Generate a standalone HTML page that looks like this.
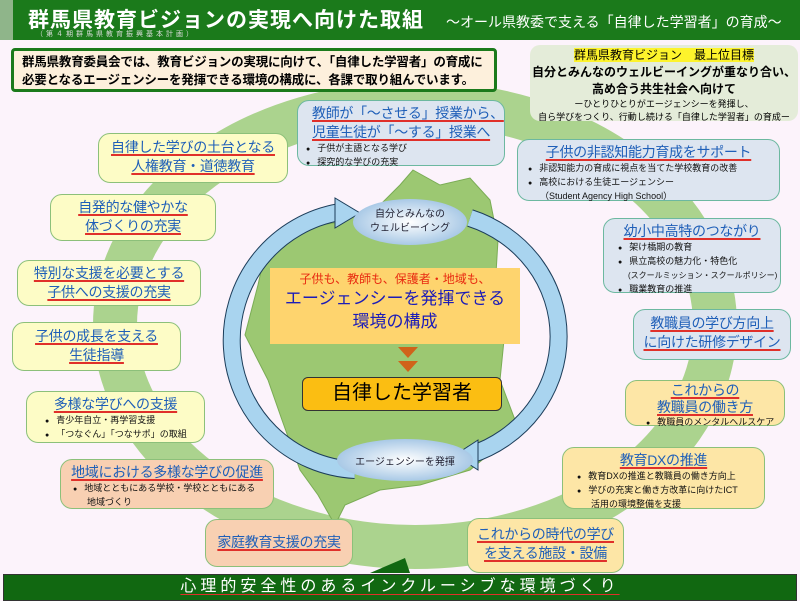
<!DOCTYPE html>
<html><head><meta charset="utf-8"><style>
*{margin:0;padding:0;box-sizing:border-box}
body{width:800px;height:601px;overflow:hidden;background:#fcf3fb;font-family:"Liberation Sans","Noto Sans CJK JP",sans-serif;position:relative;white-space:nowrap}
.a{position:absolute}
.bx{position:absolute;border:1.5px solid #8cc07a;border-radius:12px;text-align:center;color:#1f5fb8}
.t{text-decoration:underline;text-decoration-color:#e0302a;text-underline-offset:2px;text-decoration-thickness:1.5px;font-size:14px;line-height:19px;letter-spacing:-0.3px}
ul{list-style:none;text-align:left;color:#111;font-size:9px;line-height:13px}
ul li:before{content:"●";margin-right:7px;font-size:7px}
ul li.n:before{content:"";margin:0}
.y{background:#fdfcc6}.b{background:#dde5f0;border-color:#6cb8a0}.o{background:#fde6a6}.s{background:#f8d0b2}
</style></head><body>
<svg class="a" style="left:0;top:0" width="800" height="601">
<ellipse cx="415" cy="325" rx="300" ry="222" fill="none" stroke="#abd38e" stroke-width="44"/>
<polygon points="370,573 405,558 410,573" fill="#116811"/>
<polygon points="413,170 440,185 470,178 490,200 498,240 495,290 505,330 500,380 515,420 500,445 470,470 420,485 380,490 345,505 335,525 318,495 300,470 282,420 268,380 245,335 258,285 268,240 300,228 340,222 380,205 400,185" fill="#9cc872" stroke="#7aac55"/>
<path d="M355,470 A130,130 0 0 1 340,212" fill="none" stroke="#1c3d5a" stroke-width="18"/>
<path d="M355,470 A130,130 0 0 1 340,212" fill="none" stroke="#a9d4ef" stroke-width="16"/>
<polygon points="335,198 335,228 360,213" fill="#a9d4ef" stroke="#1c3d5a"/>
<path d="M470,218 A130,125 0 0 1 470,455" fill="none" stroke="#1c3d5a" stroke-width="18"/>
<path d="M470,218 A130,125 0 0 1 470,455" fill="none" stroke="#a9d4ef" stroke-width="16"/>
<polygon points="478,440 478,470 455,455" fill="#a9d4ef" stroke="#1c3d5a"/>
<defs><radialGradient id="g"><stop offset="0" stop-color="#fff"/><stop offset="1" stop-color="#a9c9e6"/></radialGradient></defs>
<ellipse cx="410" cy="222" rx="57" ry="23" fill="url(#g)"/>
<ellipse cx="405" cy="460" rx="68" ry="21" fill="url(#g)"/>
<polygon points="398,347 418,347 408,358" fill="#d0631a"/>
<polygon points="398,361 418,361 408,372" fill="#d0631a"/>
</svg>
<div class="a" style="left:0;top:0;width:13px;height:40px;background:#8fb58a"></div>
<div class="a" style="left:13px;top:0;width:787px;height:40px;background:#1b7a1b"></div>
<div class="a" style="left:28px;top:4px;color:#fff;font-size:21px;font-weight:bold;letter-spacing:1px">群馬県教育ビジョンの実現へ向けた取組</div>
<div class="a" style="left:36px;top:29px;color:#ddd;font-size:7px;letter-spacing:3px">（第４期群馬県教育振興基本計画）</div>
<div class="a" style="left:446px;top:12px;color:#fff;font-size:14px">～オール県教委で支える「自律した学習者」の育成～</div>
<div class="a" style="left:11px;top:48px;width:486px;height:44px;border:3px solid #1b7a1b;border-radius:4px;background:#fdf0dc;font-size:12.5px;font-weight:bold;line-height:18px;padding:2px 0 0 8px;letter-spacing:-0.2px">群馬県教育委員会では、教育ビジョンの実現に向けて、「自律した学習者」の育成に<br>必要となるエージェンシーを発揮できる環境の構成に、各課で取り組んでいます。</div>
<div class="a" style="left:530px;top:45px;width:268px;height:76px;background:#e4ecd9;border-radius:10px;text-align:center;font-size:12px;font-weight:bold;line-height:17px;padding-top:2px"><span style="background:#fdf32c;font-weight:normal">群馬県教育ビジョン　最上位目標</span><br>自分とみんなのウェルビーイングが重なり合い、<br>高め合う共生社会へ向けて<div style="font-size:9px;font-weight:normal;line-height:13px">ーひとりひとりがエージェンシーを発揮し、<br>自ら学びをつくり、行動し続ける「自律した学習者」の育成ー</div></div>

<div class="bx b" style="left:297px;top:100px;width:208px;height:66px;padding:3px 0 0 8px;text-align:left"><div class="t" style="padding-left:6px">教師が「～させる」授業から、<br>児童生徒が「～する」授業へ</div><ul><li>子供が主語となる学び</li><li>探究的な学びの充実</li></ul></div>
<div class="bx y" style="left:98px;top:133px;width:190px;height:50px;padding-top:4px"><div class="t">自律した学びの土台となる<br>人権教育・道徳教育</div></div>
<div class="bx b" style="left:517px;top:139px;width:263px;height:62px;padding-top:3px"><div class="t">子供の非認知能力育成をサポート</div><ul style="padding-left:10px"><li>非認知能力の育成に視点を当てた学校教育の改善</li><li>高校における生徒エージェンシー</li><li class="n" style="padding-left:12px">（Student Agency High School）</li></ul></div>
<div class="bx y" style="left:50px;top:194px;width:166px;height:47px;padding-top:3px"><div class="t">自発的な健やかな<br>体づくりの充実</div></div>
<div class="bx b" style="left:603px;top:218px;width:178px;height:75px;padding-top:3px"><div class="t">幼小中高特のつながり</div><ul style="padding-left:14px"><li>架け橋期の教育</li><li>県立高校の魅力化・特色化</li><li class="n" style="padding-left:10px;font-size:8px">(スクールミッション・スクールポリシー)</li><li>職業教育の推進</li></ul></div>
<div class="bx y" style="left:17px;top:260px;width:184px;height:46px;padding-top:3px"><div class="t">特別な支援を必要とする<br>子供への支援の充実</div></div>
<div class="bx b" style="left:633px;top:309px;width:158px;height:51px;padding-top:4px"><div class="t">教職員の学び方向上<br>に向けた研修デザイン</div></div>
<div class="bx y" style="left:12px;top:322px;width:169px;height:49px;padding-top:4px"><div class="t">子供の成長を支える<br>生徒指導</div></div>
<div class="bx o" style="left:625px;top:380px;width:160px;height:46px;padding-top:1px"><div class="t" style="line-height:17px">これからの<br>教職員の働き方</div><ul style="padding-left:20px"><li>教職員のメンタルヘルスケア</li></ul></div>
<div class="bx y" style="left:26px;top:391px;width:179px;height:52px;padding-top:3px"><div class="t">多様な学びへの支援</div><ul style="padding-left:18px"><li>青少年自立・再学習支援</li><li>「つなぐん」「つなサポ」の取組</li></ul></div>
<div class="bx o" style="left:562px;top:447px;width:203px;height:62px;padding-top:3px"><div class="t">教育DXの推進</div><ul style="padding-left:14px"><li>教育DXの推進と教職員の働き方向上</li><li>学びの充実と働き方改革に向けたICT</li><li class="n" style="padding-left:14px">活用の環境整備を支援</li></ul></div>
<div class="bx s" style="left:60px;top:459px;width:214px;height:50px;padding-top:3px"><div class="t">地域における多様な学びの促進</div><ul style="padding-left:12px"><li>地域とともにある学校・学校とともにある</li><li class="n" style="padding-left:14px">地域づくり</li></ul></div>
<div class="bx o" style="left:467px;top:518px;width:157px;height:55px;padding-top:6px"><div class="t">これからの時代の学び<br>を支える施設・設備</div></div>
<div class="bx s" style="left:205px;top:519px;width:148px;height:48px;padding-top:13px"><div class="t">家庭教育支援の充実</div></div>

<div class="a" style="left:270px;top:268px;width:250px;height:76px;background:#fed46e;text-align:center;color:#1c1cb8;font-size:17px;line-height:23px;padding-top:3px"><div style="color:#e82a10;font-size:12px;line-height:16px">子供も、教師も、保護者・地域も、</div>エージェンシーを発揮できる<br>環境の構成</div>
<div class="a" style="left:302px;top:377px;width:200px;height:34px;background:#fbbe12;border:1.5px solid #333;border-radius:6px;text-align:center;font-size:20px;line-height:31px">自律した学習者</div>
<div class="a" style="left:355px;top:208px;width:110px;text-align:center;font-size:10px;line-height:14px;color:#223">自分とみんなの<br>ウェルビーイング</div>
<div class="a" style="left:340px;top:453px;width:130px;text-align:center;font-size:10px;color:#223">エージェンシーを発揮</div>

<div class="a" style="left:3px;top:574px;width:794px;height:27px;background:#116811;border:1px solid #333;text-align:center;color:#fff;font-size:16px;letter-spacing:4px;line-height:24px"><span style="text-decoration:underline;text-decoration-color:#e0302a;text-underline-offset:3px">心理的安全性のあるインクルーシブな環境づくり</span></div>
</body></html>
